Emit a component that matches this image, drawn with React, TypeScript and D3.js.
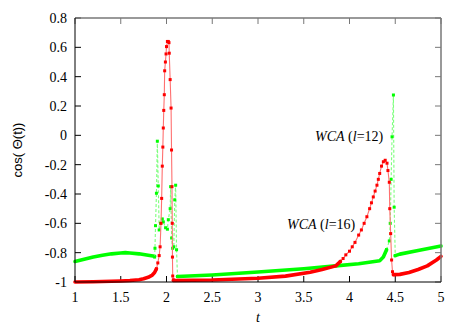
import React from "react";
import { scaleLinear, line } from "d3";

// t values and cos(theta) values
const xTicks = [1, 1.5, 2, 2.5, 3, 3.5, 4, 4.5, 5];
const xTickLabels = ["1", "1.5", "2", "2.5", "3", "3.5", "4", "4.5", "5"];
const yTicks = [-1, -0.8, -0.6, -0.4, -0.2, 0, 0.2, 0.4, 0.6, 0.8];
const yTickLabels = ["-1", "-0.8", "-0.6", "-0.4", "-0.2", "0", "0.2", "0.4", "0.6", "0.8"];

// red curve (l=16): dense parts and sampled spikes
const redFlatA = [[1, -1], [1.2, -0.998], [1.4, -0.995], [1.5, -0.993], [1.6, -0.99], [1.7, -0.985], [1.75, -0.978], [1.8, -0.968], [1.84, -0.955], [1.87, -0.935], [1.89, -0.91]];
const redSpikeA = [[1.89, -0.91], [1.905, -0.87], [1.92, -0.82], [1.93, -0.76], [1.94, -0.6], [1.947, -0.43], [1.954, -0.21], [1.96, -0.08], [1.965, 0.05], [1.97, 0.17], [1.976, 0.277], [1.98, 0.44], [1.988, 0.5], [1.995, 0.555], [2.0, 0.605], [2.01, 0.64], [2.02, 0.64], [2.027, 0.632], [2.03, 0.56], [2.04, 0.38], [2.05, 0.186], [2.055, -0.1], [2.06, -0.35], [2.063, -0.6], [2.065, -0.83], [2.068, -0.959], [2.075, -0.985]];
const redFlatB = [[2.075, -0.99], [2.5, -0.986], [3, -0.974], [3.3, -0.96], [3.57, -0.934], [3.7, -0.915], [3.85, -0.89], [3.9, -0.86]];
const redSpikeB = [[3.9, -0.86], [3.93, -0.84], [3.96, -0.815], [4.0, -0.79], [4.03, -0.76], [4.06, -0.73], [4.1, -0.68], [4.13, -0.645], [4.16, -0.6], [4.19, -0.555], [4.22, -0.5], [4.24, -0.46], [4.26, -0.42], [4.28, -0.38], [4.3, -0.34], [4.315, -0.3], [4.33, -0.26], [4.35, -0.21], [4.37, -0.18], [4.39, -0.17], [4.41, -0.19], [4.42, -0.24], [4.435, -0.32], [4.44, -0.5], [4.45, -0.67], [4.46, -0.85], [4.47, -0.93], [4.48, -0.95]];
const redFlatC = [[4.48, -0.95], [4.55, -0.948], [4.65, -0.935], [4.75, -0.915], [4.85, -0.89], [4.95, -0.85], [5, -0.825]];

// green curve (l=12)
const greenFlatA = [[1, -0.86], [1.1, -0.845], [1.2, -0.83], [1.3, -0.818], [1.4, -0.808], [1.5, -0.802], [1.55, -0.8], [1.6, -0.802], [1.7, -0.808], [1.8, -0.818], [1.87, -0.825]];
const greenSpikeA = [[1.87, -0.83], [1.874, -0.77], [1.88, -0.616], [1.89, -0.395], [1.9, -0.04], [1.91, -0.345], [1.92, -0.645], [1.936, -0.6], [1.954, -0.57], [1.965, -0.59], [1.99, -0.63], [2.01, -0.64], [2.02, -0.575], [2.04, -0.5], [2.045, -0.35], [2.056, -0.7], [2.067, -0.77], [2.08, -0.76], [2.09, -0.44], [2.1, -0.34], [2.11, -0.78], [2.12, -0.962]];
const greenFlatB = [[2.12, -0.962], [2.5, -0.952], [3, -0.932], [3.5, -0.91], [3.85, -0.89], [4.1, -0.875], [4.33, -0.855], [4.37, -0.83], [4.405, -0.78]];
const greenSpikeB = [[4.405, -0.78], [4.435, -0.72], [4.445, -0.6], [4.455, -0.3], [4.465, -0.01], [4.48, 0.275], [4.488, -0.49], [4.5, -0.82]];
const greenFlatC = [[4.5, -0.82], [4.55, -0.81], [4.75, -0.785], [5, -0.755]];

const W = 466;
const H = 327;
const margin = { left: 75, right: 25, top: 18, bottom: 45 };

export default function App() {
  const x = scaleLinear().domain([1, 5]).range([margin.left, W - margin.right]);
  const y = scaleLinear().domain([-1, 0.8]).range([H - margin.bottom, margin.top]);
  const path = line<number[]>().x(d => x(d[0])).y(d => y(d[1]));

  const serif = "Times New Roman, Liberation Serif, DejaVu Serif, serif";
  const red = "#ff0000";
  const green = "#00ff00";

  const flat = (pts: number[][], color: string, key: string) => (
    <path key={key} d={path(pts) || ""} fill="none" stroke={color} strokeWidth={3.6} strokeLinecap="round" strokeLinejoin="round" />
  );
  const spike = (pts: number[][], color: string, lineColor: string, dash: string | undefined, key: string) => (
    <g key={key}>
      <path d={path(pts) || ""} fill="none" stroke={lineColor} strokeWidth={1.1} strokeDasharray={dash} />
      {pts.map((d, i) => (
        <rect key={i} x={x(d[0]) - 1.5} y={y(d[1]) - 1.5} width={3} height={3} fill={color} />
      ))}
    </g>
  );

  const x0 = x.range()[0], x1 = x.range()[1];
  const y0 = y.range()[0], y1 = y.range()[1];

  return (
    <div>
      <style>{"body{margin:0}"}</style>
      <svg width={W} height={H} style={{ display: "block", background: "#fff" }}>
        {/* ticks */}
        {xTicks.map((t, i) => (
          <g key={"xt" + i}>
            <line x1={x(t)} x2={x(t)} y1={y0} y2={y0 - 6} stroke="#000" />
            <line x1={x(t)} x2={x(t)} y1={y1} y2={y1 + 6} stroke="#777" />
            <text x={x(t)} y={y0 + 20} textAnchor="middle" fontFamily={serif} fontSize={14}>{xTickLabels[i]}</text>
          </g>
        ))}
        {yTicks.map((v, i) => (
          <g key={"yt" + i}>
            <line x1={x0} x2={x0 + 6} y1={y(v)} y2={y(v)} stroke="#000" />
            <line x1={x1} x2={x1 - 6} y1={y(v)} y2={y(v)} stroke="#777" />
            <text x={x0 - 8} y={y(v) + 5} textAnchor="end" fontFamily={serif} fontSize={14}>{yTickLabels[i]}</text>
          </g>
        ))}

        {/* green curve */}
        {flat(greenFlatA, green, "gfa")}
        {flat(greenFlatB, green, "gfb")}
        {flat(greenFlatC, green, "gfc")}
        {spike(greenSpikeA, green, "#7dff7d", "3,2", "gsa")}
        {spike(greenSpikeB, green, "#7dff7d", "3,2", "gsb")}

        {/* red curve */}
        {flat(redFlatA, red, "rfa")}
        {flat(redFlatB, red, "rfb")}
        {flat(redFlatC, red, "rfc")}
        {spike(redSpikeA, red, "#ff7070", undefined, "rsa")}
        {spike(redSpikeB, red, "#ff7070", undefined, "rsb")}

        {/* border */}
        <line x1={x0} x2={x1} y1={y1} y2={y1} stroke="#777" strokeWidth={1.5} />
        <line x1={x1} x2={x1} y1={y1} y2={y0} stroke="#777" strokeWidth={1.5} />
        <line x1={x0} x2={x1} y1={y0} y2={y0} stroke="#000" />
        <line x1={x0} x2={x0} y1={y1} y2={y0} stroke="#000" />

        {/* labels */}
        <text x={315} y={141} fontFamily={serif} fontSize={14}>
          <tspan fontStyle="italic">WCA</tspan> (<tspan fontStyle="italic">l</tspan>=12)
        </text>
        <text x={287} y={229} fontFamily={serif} fontSize={14}>
          <tspan fontStyle="italic">WCA</tspan> (<tspan fontStyle="italic">l</tspan>=16)
        </text>
        <text x={(x0 + x1) / 2} y={322} textAnchor="middle" fontFamily={serif} fontStyle="italic" fontSize={14}>t</text>
        <text transform={`translate(22,${(y0 + y1) / 2}) rotate(-90)`} textAnchor="middle" fontFamily="Liberation Sans, Arial, sans-serif" fontSize={13}>cos( Θ(t))</text>
      </svg>
    </div>
  );
}
